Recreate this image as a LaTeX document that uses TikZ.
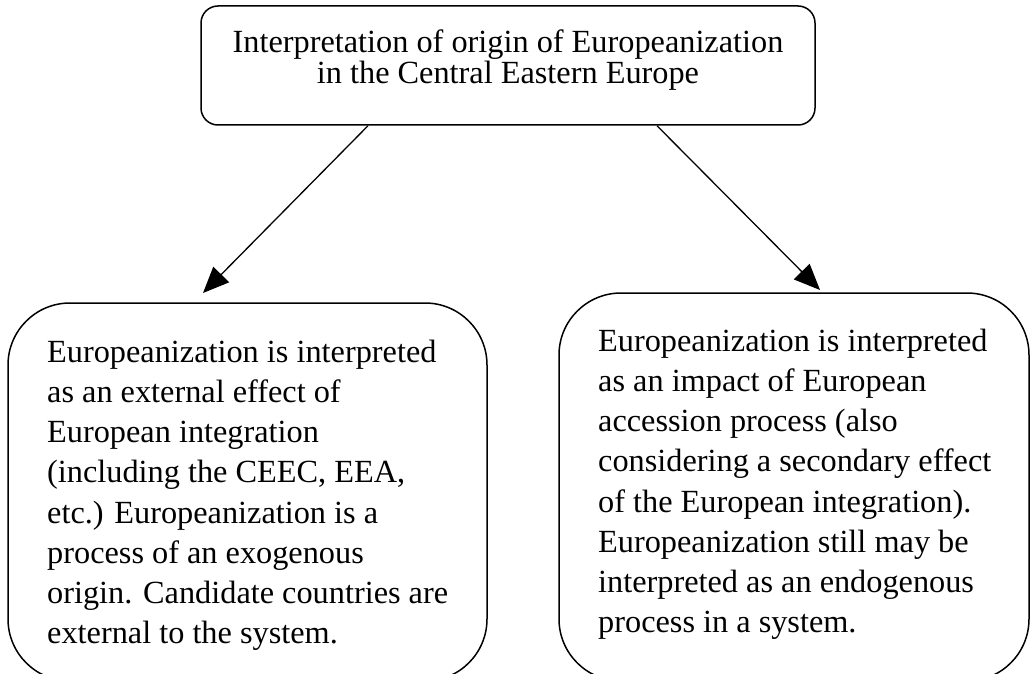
\documentclass[tikz,border=0pt]{standalone}
\usepackage{fontspec}
\setmainfont{Liberation Serif}
\usetikzlibrary{arrows.meta}
\begin{document}
\begin{tikzpicture}[x=1pt,y=-1pt,
  box/.style={draw, line width=1.5pt, rounded corners=#1, inner sep=0pt},
  txt/.style={inner sep=0pt, font=\fontsize{32.3}{40.1}\selectfont, align=left},
  toptxt/.style={inner sep=0pt, font=\fontsize{32.3}{31}\selectfont, align=center},
  arr/.style={line width=1.3pt, -{Triangle[length=26pt,width=22pt]}}]
\useasboundingbox (0,0) rectangle (1031,674);
\clip (0,0) rectangle (1031,674);
\node[box=17pt, minimum width=614pt, minimum height=119pt] (top) at (508,65.5) {};
\node[box=62pt, minimum width=479pt, minimum height=378pt] (left) at (247.5,492) {};
\node[box=62pt, minimum width=470pt, minimum height=388pt] (right) at (794,487) {};
\node[toptxt, anchor=north] (toptext) at (508,29.8) {Interpretation of origin of Europeanization\\in the Central Eastern Europe};
\node[txt, anchor=north west] (lefttext) at (47,340) {Europeanization is interpreted\\as an external effect of\\European integration\\(including the CEEC, EEA,\\etc.) Europeanization is a\\process of an exogenous\\origin. Candidate countries are\\external to the system.};
\node[txt, anchor=north west] (righttext) at (598,329) {Europeanization is interpreted\\as an impact of European\\accession process (also\\considering a secondary effect\\of the European integration).\\Europeanization still may be\\interpreted as an endogenous\\process in a system.};
\coordinate (ltip) at (203,293);
\coordinate (rtip) at (820,290);
\draw[arr] ([xshift=-140pt]top.south) -- (ltip);
\draw[arr] ([xshift=149pt]top.south) -- (rtip);
\end{tikzpicture}
\end{document}
